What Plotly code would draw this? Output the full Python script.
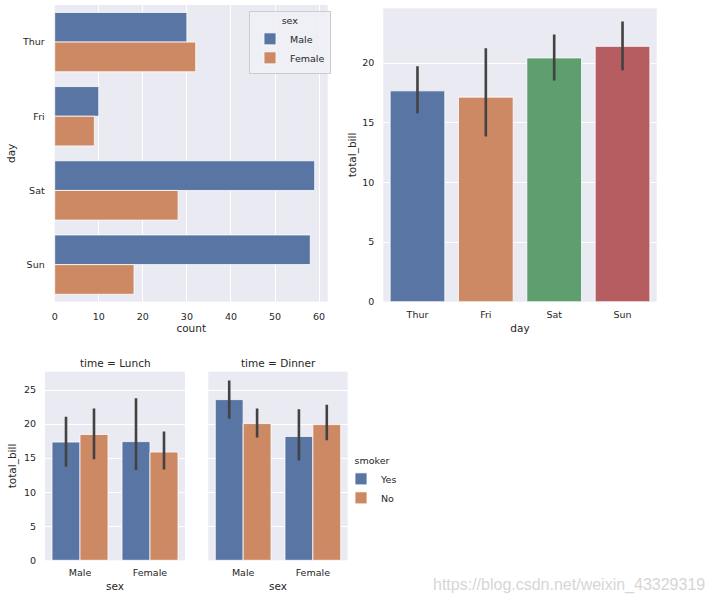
import plotly.graph_objects as go

# ---------------- data ----------------
days = ["Thur", "Fri", "Sat", "Sun"]
count_male = [30, 10, 59, 58]
count_female = [32, 9, 28, 18]

bill_mean = [17.68, 17.15, 20.44, 21.41]
bill_ci_low = [15.8, 13.85, 18.55, 19.4]
bill_ci_high = [19.75, 21.25, 22.4, 23.5]

sexes = ["Male", "Female"]
lunch_yes = [17.37, 17.43]
lunch_yes_low = [13.75, 13.25]
lunch_yes_high = [21.1, 23.8]
lunch_no = [18.49, 15.9]
lunch_no_low = [14.85, 13.35]
lunch_no_high = [22.3, 18.9]
dinner_yes = [23.6, 18.2]
dinner_yes_low = [20.8, 14.65]
dinner_yes_high = [26.4, 22.2]
dinner_no = [20.08, 19.93]
dinner_no_low = [18.05, 17.65]
dinner_no_high = [22.3, 22.85]

# ---------------- style ----------------
BLUE = "#5975A4"
ORANGE = "#CC8963"
GREEN = "#5F9E6E"
RED = "#B55D60"
BG = "#EAEAF2"
TXT = "#262626"
ERR = "#424242"
FONT = "DejaVu Sans"
TICK = 9.5
LAB = 10.5


def err(mean, low, high):
    return dict(type="data", symmetric=False,
                array=[h - m for m, h in zip(mean, high)],
                arrayminus=[m - l for m, l in zip(mean, low)],
                color=ERR, thickness=2.6, width=0)


fig = go.Figure()

# top-left countplot
fig.add_trace(go.Bar(y=days, x=count_male, orientation="h", name="Male",
                     marker=dict(color=BLUE, line=dict(color="white", width=0.8)),
                     xaxis="x", yaxis="y", legend="legend"))
fig.add_trace(go.Bar(y=days, x=count_female, orientation="h", name="Female",
                     marker=dict(color=ORANGE, line=dict(color="white", width=0.8)),
                     xaxis="x", yaxis="y", legend="legend"))

# top-right barplot
fig.add_trace(go.Bar(x=days, y=bill_mean, showlegend=False,
                     marker=dict(color=[BLUE, ORANGE, GREEN, RED],
                                 line=dict(color="white", width=0.8)),
                     error_y=err(bill_mean, bill_ci_low, bill_ci_high),
                     xaxis="x2", yaxis="y2"))

# bottom facets
fig.add_trace(go.Bar(x=sexes, y=lunch_yes, name="Yes",
                     marker=dict(color=BLUE, line=dict(color="white", width=0.8)),
                     error_y=err(lunch_yes, lunch_yes_low, lunch_yes_high),
                     xaxis="x3", yaxis="y3", legend="legend2"))
fig.add_trace(go.Bar(x=sexes, y=lunch_no, name="No",
                     marker=dict(color=ORANGE, line=dict(color="white", width=0.8)),
                     error_y=err(lunch_no, lunch_no_low, lunch_no_high),
                     xaxis="x3", yaxis="y3", legend="legend2"))
fig.add_trace(go.Bar(x=sexes, y=dinner_yes, name="Yes", showlegend=False,
                     marker=dict(color=BLUE, line=dict(color="white", width=0.8)),
                     error_y=err(dinner_yes, dinner_yes_low, dinner_yes_high),
                     xaxis="x4", yaxis="y4"))
fig.add_trace(go.Bar(x=sexes, y=dinner_no, name="No", showlegend=False,
                     marker=dict(color=ORANGE, line=dict(color="white", width=0.8)),
                     error_y=err(dinner_no, dinner_no_low, dinner_no_high),
                     xaxis="x4", yaxis="y4"))

W, H = 714, 604


def px_x(a, b):
    return [a / W, b / W]


def px_y(top, bottom):
    return [1 - bottom / H, 1 - top / H]


tickfont = dict(family=FONT, size=TICK, color=TXT)
labfont = dict(family=FONT, size=LAB, color=TXT)

common_val = dict(showgrid=True, gridcolor="white", gridwidth=1, zeroline=False,
                  showline=False, ticks="", tickfont=tickfont, automargin=False)
common_cat = dict(showgrid=False, zeroline=False, showline=False, ticks="",
                  tickfont=tickfont, automargin=False)

fig.update_layout(
    width=W, height=H, margin=dict(l=0, r=0, t=0, b=0),
    paper_bgcolor="white", plot_bgcolor=BG,
    barmode="group", bargap=0.2, bargroupgap=0,
    font=dict(family=FONT, color=TXT),
    xaxis=dict(domain=px_x(54.7, 327.7), anchor="y", range=[0, 61.95],
               tickvals=[0, 10, 20, 30, 40, 50, 60], ticklabelstandoff=8,
               title=dict(text="count", font=labfont, standoff=2), **common_val),
    yaxis=dict(domain=px_y(5, 301.7), anchor="x", range=[3.5, -0.5],
               categoryorder="array", categoryarray=days, ticklabelstandoff=9,
               title=dict(text="day", font=labfont, standoff=4), **common_cat),
    xaxis2=dict(domain=px_x(383.3, 656.7), anchor="y2", range=[-0.5, 3.5],
                categoryorder="array", categoryarray=days, ticklabelstandoff=6,
                title=dict(text="day", font=labfont, standoff=5), **common_cat),
    yaxis2=dict(domain=px_y(8.3, 301.7), anchor="x2", range=[0, 24.6],
                tickvals=[0, 5, 10, 15, 20], ticklabelstandoff=8,
                title=dict(text="total_bill", font=labfont, standoff=3), **common_val),
    xaxis3=dict(domain=px_x(45, 185), anchor="y3", range=[-0.5, 1.5],
                categoryorder="array", categoryarray=sexes, ticklabelstandoff=5,
                title=dict(text="sex", font=labfont, standoff=5), **common_cat),
    yaxis3=dict(domain=px_y(371.7, 560.3), anchor="x3", range=[0, 27.7],
                tickvals=[0, 5, 10, 15, 20, 25], ticklabelstandoff=8,
                title=dict(text="total_bill", font=labfont, standoff=5), **common_val),
    xaxis4=dict(domain=px_x(208.3, 347.7), anchor="y4", range=[-0.5, 1.5],
                categoryorder="array", categoryarray=sexes, ticklabelstandoff=5,
                title=dict(text="sex", font=labfont, standoff=5), **common_cat),
    yaxis4=dict(domain=px_y(371.7, 560.3), anchor="x4", range=[0, 27.7],
                matches="y3", tickvals=[0, 5, 10, 15, 20, 25], showticklabels=False,
                **common_val),
    legend=dict(x=249 / W, y=1 - 11 / H, xanchor="left", yanchor="top",
                bgcolor="rgba(240,240,246,0.9)", bordercolor="#CCCCCC", borderwidth=1,
                title=dict(text="sex", side="top center",
                           font=dict(family=FONT, size=TICK, color=TXT)),
                font=dict(family=FONT, size=TICK, color=TXT),
                tracegroupgap=0, itemwidth=30),
    legend2=dict(x=341 / W, y=1 - 452 / H, xanchor="left", yanchor="top",
                 bgcolor="rgba(0,0,0,0)", borderwidth=0,
                 title=dict(text="smoker", side="top center",
                            font=dict(family=FONT, size=TICK, color=TXT)),
                 font=dict(family=FONT, size=TICK, color=TXT),
                 tracegroupgap=0, itemwidth=30),
    annotations=[
        dict(text="time = Lunch", x=(45 + 185) / 2 / W, y=1 - 362.7 / H,
             xref="paper", yref="paper", showarrow=False,
             font=labfont, xanchor="center", yanchor="middle"),
        dict(text="time = Dinner", x=(208.3 + 347.7) / 2 / W, y=1 - 362.7 / H,
             xref="paper", yref="paper", showarrow=False,
             font=labfont, xanchor="center", yanchor="middle"),
        dict(text="https://blog.csdn.net/weixin_43329319", x=(433 + 704) / 2 / W,
             y=1 - 585 / H, xref="paper", yref="paper", showarrow=False,
             font=dict(family="Liberation Sans", size=16, color="#D6D6D6"),
             xanchor="center", yanchor="middle"),
    ],
)

fig.write_html("out.html", config={"displayModeBar": False},
               post_script="document.body.style.margin='0';")
